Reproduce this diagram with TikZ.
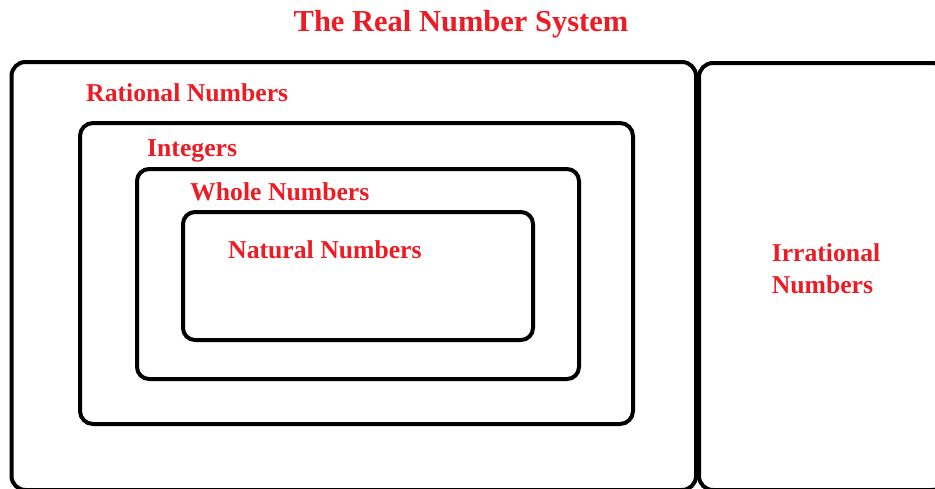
\documentclass[tikz,border=0pt]{standalone}
\usepackage{fontspec}
\setmainfont{Liberation Serif}
\usepackage{tikz}

\definecolor{setred}{RGB}{237,28,36}

\tikzset{
	setbox/.style={line width=4pt, rounded corners=14pt},
	setlabel/.style={text=setred, font=\fontsize{25.7}{32}\selectfont\bfseries, inner sep=0pt},
}

\begin{document}
\begin{tikzpicture}[x=1pt, y=-1pt]
			\useasboundingbox (0, 0) rectangle (935, 488);
			\clip (0, 0) rectangle (935, 488);
			\fill[white] (0, 0) rectangle (935, 488);

			% title
			\node[setlabel, font=\fontsize{30.5}{36}\selectfont\bfseries, anchor=base] (title) at (461, 31) {The Real Number System};

			% nested sets
			\draw[setbox] (11.5, 62) rectangle (696, 490);
			\draw[setbox] (699, 63) rectangle (946, 490);
			\draw[setbox, rounded corners=13pt] (80, 123) rectangle (633, 424);
			\draw[setbox, rounded corners=12pt] (137, 169) rectangle (579, 379);
			\draw[setbox, rounded corners=12pt] (183, 212) rectangle (533, 340);

			\node[setlabel, anchor=base west] (rational) at (86, 101) {Rational Numbers};
			\node[setlabel, anchor=base west] (integers) at (147, 156) {Integers};
			\node[setlabel, anchor=base west] (whole) at (190, 200) {Whole Numbers};
			\node[setlabel, anchor=base west] (natural) at (228, 258) {Natural Numbers};
			\node[setlabel, align=left] (irrational) at (826, 269) {Irrational\\Numbers};
		\end{tikzpicture}
\end{document}
